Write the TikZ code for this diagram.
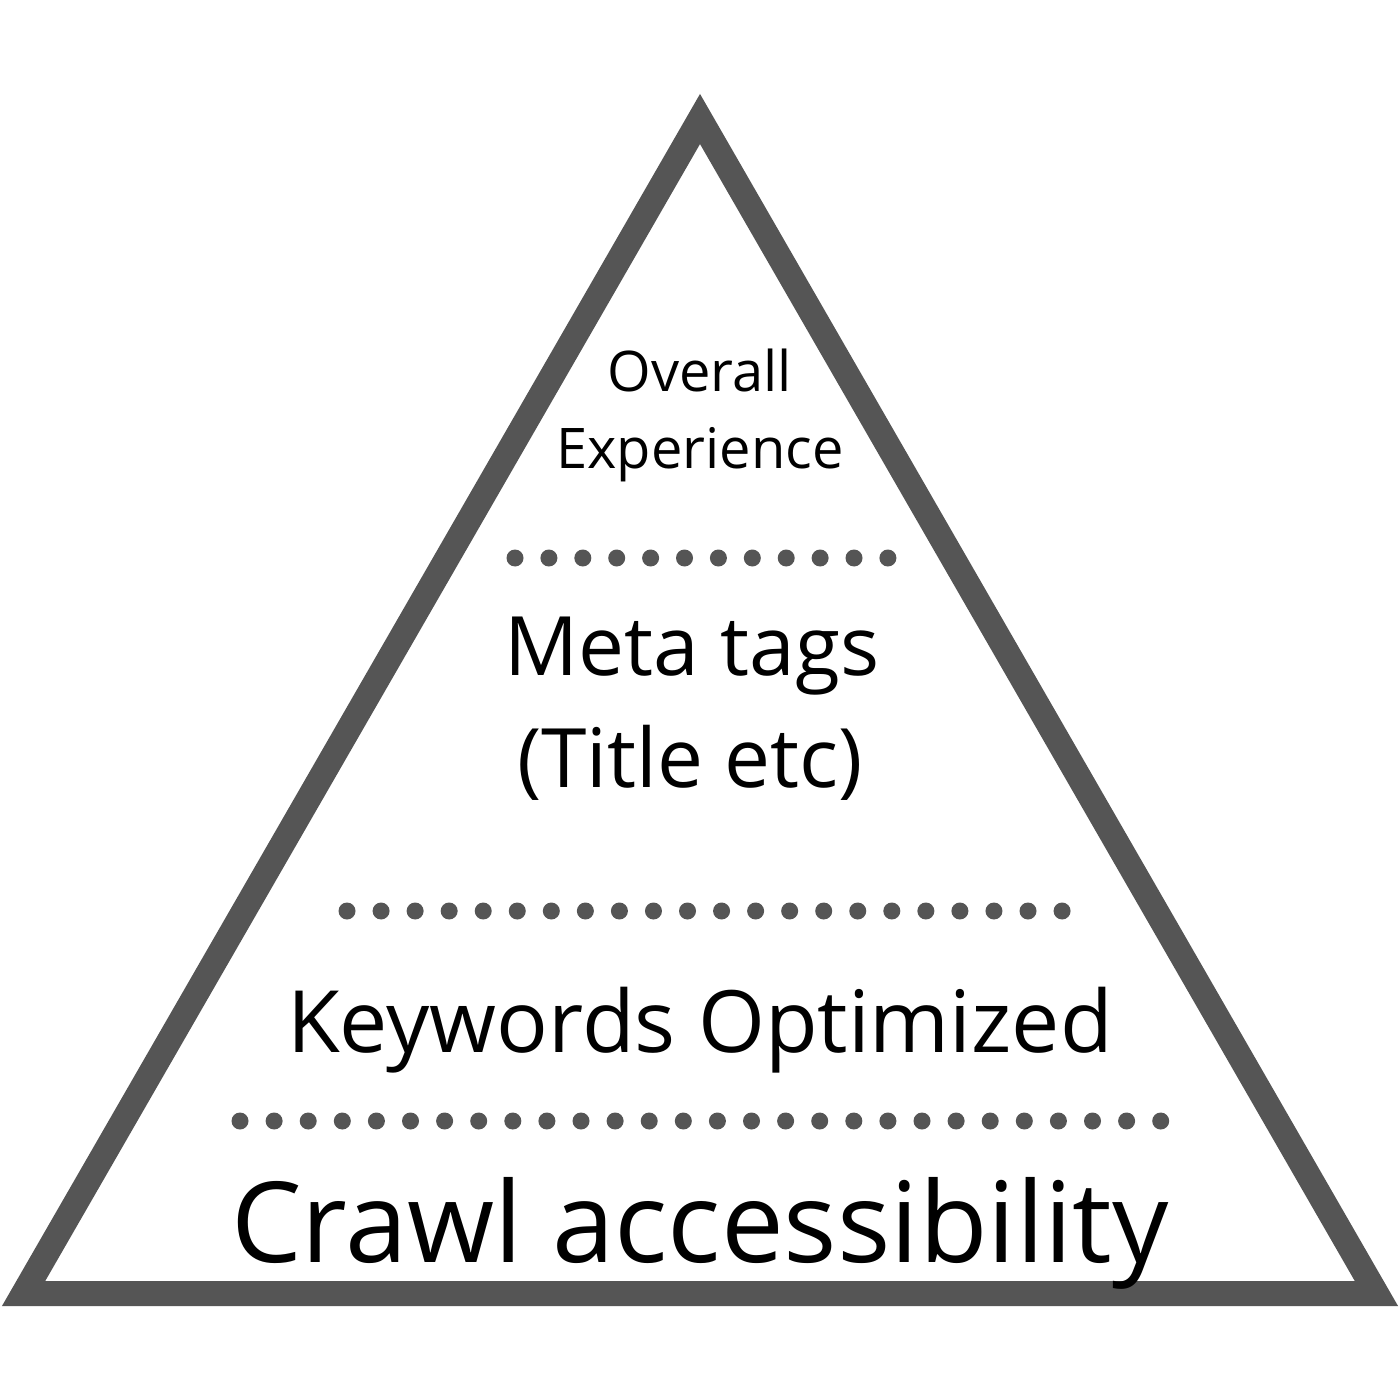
\documentclass[tikz,border=0pt]{standalone}
\usepackage{fontspec}
\setmainfont{Open Sans}
\definecolor{framegray}{HTML}{555555}
\begin{document}
\begin{tikzpicture}[x=0.5pt,y=-0.5pt,
  frame/.style={draw=framegray,line width=12.5pt,line join=miter},
  dot/.style={fill=framegray},
  label/.style={anchor=base,inner sep=0pt,text=black}]
\useasboundingbox (0,0) rectangle (1400,1400);
\fill[white] (0,0) rectangle (1400,1400);
% pyramid outline
\coordinate (apex) at (700,119);
\coordinate (bl) at (23.6,1293.5);
\coordinate (br) at (1376.4,1293.5);
\draw[frame] (apex) -- (bl) -- (br) -- cycle;
% dotted separators
\foreach \i in {0,...,11} \fill[dot] (515+\i*33.9,558) circle[radius=4.25pt];
\foreach \i in {0,...,21} \fill[dot] (347+\i*34.05,911) circle[radius=4.25pt];
\foreach \i in {0,...,27} \fill[dot] (240+\i*34.1,1121) circle[radius=4.25pt];
% tier labels
\node[label,font=\fontsize{28}{33}\selectfont] (overall) at (700,392) {Overall};
\node[label,font=\fontsize{28}{33}\selectfont] (experience) at (700,469) {Experience};
\node[label,font=\fontsize{41}{49}\selectfont] (meta) at (692,675) {Meta tags};
\node[label,font=\fontsize{41}{49}\selectfont] (title) at (690,787) {(Title etc)};
\node[label,font=\fontsize{43}{51}\selectfont] (keywords) at (700,1052) {Keywords Optimized};
\node[label,font=\fontsize{56}{66}\selectfont] (crawl) at (700,1262) {Crawl accessibility};
\end{tikzpicture}
\end{document}
